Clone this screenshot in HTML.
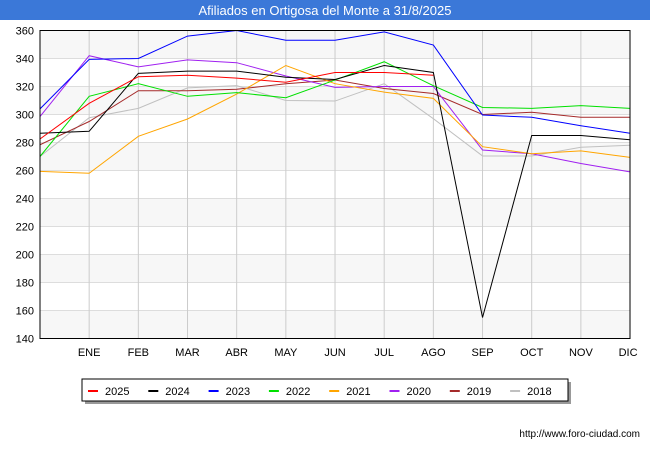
<!DOCTYPE html>
<html><head><meta charset="utf-8"><style>
body{margin:0;background:#fff;font-family:"Liberation Sans",sans-serif}
</style></head><body>
<svg id="c" width="650" height="450" xmlns="http://www.w3.org/2000/svg" font-family="Liberation Sans, sans-serif">
<rect width="650" height="450" fill="#fff"/>
<rect x="0" y="0" width="650" height="20" fill="#3b78d8"/>
<text x="325" y="15" text-anchor="middle" font-size="13" fill="#fff">Afiliados en Ortigosa del Monte a 31/8/2025</text>
<g id="grid"></g><g id="series"></g>
<rect x="40" y="30.5" width="590" height="308" fill="none" stroke="#000" stroke-width="1"/>
<g id="legend"></g>
<text x="640" y="437" text-anchor="end" font-size="10" fill="#000">http://www.foro-ciudad.com</text>
</svg>
<script>
const months=["","ENE","FEB","MAR","ABR","MAY","JUN","JUL","AGO","SEP","OCT","NOV","DIC"];
const yTicks=[140,160,180,200,220,240,260,280,300,320,340,360];
const seriesNames=["2025","2024","2023","2022","2021","2020","2019","2018"];
const seriesColors=["#ff0000","#000000","#0000ff","#00e000","#ffa500","#a020f0","#a52a2a","#c0c0c0"];
const s2025=[282.5,308,327,328,326,323,330,330,328];
const s2024=[286.6,288,329.4,331,331,326.6,325,335,330,155,285,285,282];
const s2023=[304,339.4,340,356,360,353,353,359,349.6,299.6,298,292,286.6];
const s2022=[270,313,322,313,315.6,312,324.6,337.7,320.6,305,304.4,306.3,304.4];
const s2021=[259.4,258,284.4,296.8,314.6,335,322,316,311.5,277,272,274,269.4];
const s2020=[298.5,342,334,339,337,327.5,319.4,320,320,274.6,272,265,259];
const s2019=[278.4,295,317,317,318,322,324.6,318.6,315,300,301.6,298,298];
const s2018=[270,297.7,304.4,319,320.6,310,309.6,322,297,270.4,270.4,276.6,278];
const allSeries=[s2025,s2024,s2023,s2022,s2021,s2020,s2019,s2018];
const NS="http://www.w3.org/2000/svg";
const X=i=>40+i*49.17, Y=v=>338.5-(v-140)*1.4;
const grid=document.getElementById('grid');
function mk(t,a,p){const e=document.createElementNS(NS,t);for(const k in a)e.setAttribute(k,a[k]);p.appendChild(e);return e;}
for(let i=0;i<yTicks.length-1;i++){if(i%2==0){const r=mk('rect',{x:40,y:Y(yTicks[i+1]),width:590,height:Y(yTicks[i])-Y(yTicks[i+1]),fill:'#f7f7f7'},grid);

}}
yTicks.forEach(v=>{const l=mk('line',{x1:40,x2:630,y1:Y(v),y2:Y(v),stroke:'#ddd'},grid);


const t=mk('text',{x:34,y:Y(v)+4,'text-anchor':'end','font-size':11},grid);t.textContent=v;

});
months.forEach((m,i)=>{if(i==0)return;const l=mk('line',{x1:X(i),x2:X(i),y1:30.5,y2:338.5,stroke:'#ccc'},grid);


const t=mk('text',{x:X(i)-(i==12?2:0),y:356,'text-anchor':'middle','font-size':11},grid);t.textContent=m;

});
const sg=document.getElementById('series');
for(let s=allSeries.length-1;s>=0;s--){const p=mk('polyline',{points:allSeries[s].map((v,i)=>X(i)+','+Y(v)).join(' '),fill:'none',stroke:seriesColors[s],'stroke-width':1},sg);

}
const lg=document.getElementById('legend');
const sh=mk('rect',{x:85,y:382,width:486,height:22,fill:'#999'},lg);


const bx=mk('rect',{x:82,y:379,width:486,height:22,fill:'#fff',stroke:'#000'},lg);


seriesNames.forEach((n,i)=>{const x0=88+i*60.3;const g=mk('g',{},lg);


mk('line',{x1:x0,x2:x0+10,y1:391,y2:391,stroke:seriesColors[i],'stroke-width':2},g);
const t=mk('text',{x:x0+17,y:395,'font-size':11},g);t.textContent=n;});
</script>
</body></html>
